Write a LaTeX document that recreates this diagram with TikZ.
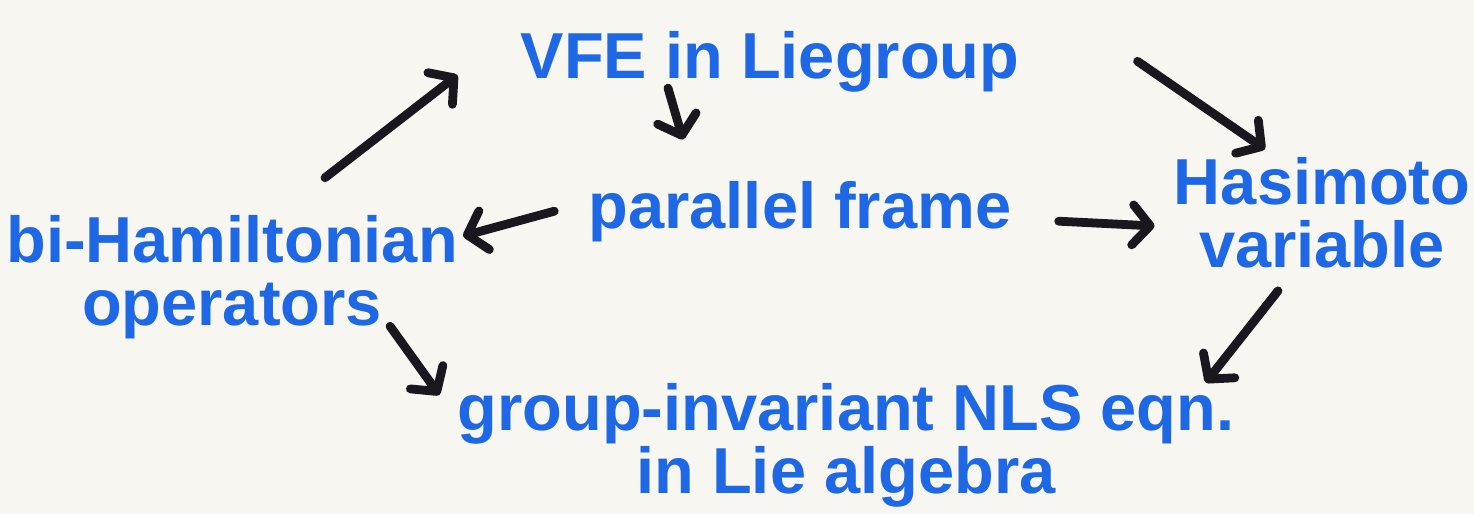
\documentclass[tikz,border=0pt]{standalone}
\usepackage{fontspec}
\setmainfont{Liberation Sans}
\usepackage{xcolor}
\usetikzlibrary{arrows.meta, positioning, calc}
\definecolor{markerblue}{RGB}{30, 104, 230}
\definecolor{markerblack}{RGB}{26, 24, 30}
\definecolor{board}{RGB}{247, 246, 240}

\begin{document}
\begin{tikzpicture}[
    x=0.02cm, y=-0.02cm,
    idea/.style={inner sep=0pt, align=center, text=markerblue, font=\fontsize{37}{36}\selectfont\bfseries},
    arrow/.style={-{Straight Barb[length=3.5mm, width=8mm, round]}, line width=5pt, line cap=round, markerblack}
]

% Board
\fill[board] (0,0) rectangle (1474,514);
\useasboundingbox (0,0) rectangle (1474,514);

% Ideas
\node[idea, anchor=base] (vfe) at (770,78) {VFE in Liegroup};
\node[idea, anchor=base] (par) at (800,228) {parallel frame};
\node[idea] (has) at (1322,213) {Hasimoto\\variable};
\node[idea] (bih) at (232,277) {bi-Hamiltonian\\operators};
\node[idea] (nls) at (846,445) {group-invariant NLS eqn.\\in Lie algebra};

% Arrows
\draw[arrow] ([shift={(93,-37)}]bih.north) -- ([shift={(-63,-17)}]vfe.south west);
\draw[arrow] ([shift={(-102,-4)}]vfe.south) -- ([shift={(-117,-41)}]par.north);
\draw[arrow] ([shift={(-34,0)}]par.west) -- ([shift={(5,-41)}]bih.east);
\draw[arrow] ([shift={(118,0)}]vfe.east) -- ([shift={(-57,-8)}]has.north);
\draw[arrow] ([shift={(47,10)}]par.east) -- ([shift={(-19,13)}]has.west);
\draw[arrow] ([shift={(-44,22)}]has.south) -- ([shift={(-29,0)}]nls.north east);
\draw[arrow] ([shift={(-68,-13)}]bih.south east) -- ([shift={(-18,-50)}]nls.west);

\end{tikzpicture}
\end{document}
